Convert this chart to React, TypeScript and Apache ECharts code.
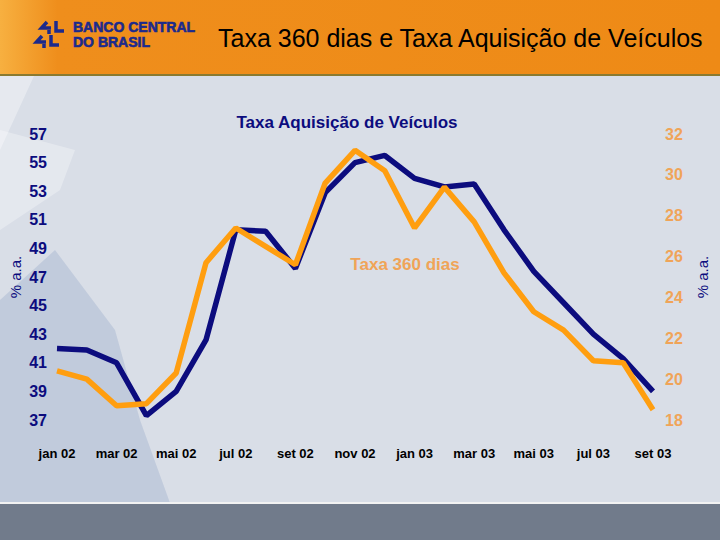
import React, { useEffect, useRef } from "react";
import * as echarts from "echarts";

const months = [
  "jan 02", "fev 02", "mar 02", "abr 02", "mai 02", "jun 02", "jul 02",
  "ago 02", "set 02", "out 02", "nov 02", "dez 02", "jan 03", "fev 03",
  "mar 03", "abr 03", "mai 03", "jun 03", "jul 03", "ago 03", "set 03",
];
const taxaVeiculos = [
  42.0, 41.9, 41.0, 37.3, 39.0, 42.6, 50.3, 50.2, 47.6, 52.9, 55.0,
  55.5, 53.9, 53.3, 53.5, 50.3, 47.4, 45.2, 43.0, 41.3, 39.0,
];
const taxa360 = [
  20.4, 20.0, 18.7, 18.8, 20.3, 25.7, 27.4, 26.5, 25.6, 29.6, 31.2,
  30.2, 27.4, 29.4, 27.7, 25.2, 23.3, 22.4, 20.9, 20.8, 18.5,
];
const leftAxis = { min: 37, max: 57, interval: 2 };
const rightAxis = { min: 18, max: 32, interval: 2 };

const NAVY = "#0c0c7e";
const ORANGE = "#FF9E10";
const PEACH = "#F0A458";
const LOGO = "#1c2a8c";
const FONT = "'Liberation Sans', Arial, sans-serif";

export default function App() {
  const ref = useRef<HTMLDivElement>(null);
  useEffect(() => {
    if (!ref.current) return;
    const chart = echarts.init(ref.current, null, { renderer: "svg" });

    const logoRow = (ox: number, oy: number) => [
      {
        type: "polyline", z: 1,
        shape: { points: [[ox + 7, oy], [ox + 1.5, oy + 6], [ox + 11, oy + 6]] },
        style: { stroke: LOGO, lineWidth: 3.5, fill: null },
      },
      {
        type: "polyline", z: 1,
        shape: { points: [[ox + 16, oy - 1], [ox + 16, oy + 9], [ox + 24, oy + 9]] },
        style: { stroke: LOGO, lineWidth: 3.5, fill: null },
      },
      {
        type: "polyline", z: 1,
        shape: { points: [[ox + 9, oy + 8], [ox + 9, oy + 12]] },
        style: { stroke: LOGO, lineWidth: 3.5, fill: null },
      },
    ];

    chart.setOption({
      animation: false,
      graphic: [
        { type: "rect", z: 0, shape: { x: 0, y: 0, width: 720, height: 540 }, style: { fill: "#D9DEE7" } },
        {
          type: "rect", z: 0, shape: { x: 0, y: 0, width: 720, height: 74 },
          style: {
            fill: new echarts.graphic.LinearGradient(0, 0, 1, 0, [
              { offset: 0, color: "#F7B040" },
              { offset: 0.08, color: "#EF8E1C" },
              { offset: 1, color: "#EE8A16" },
            ]),
          },
        },
        { type: "rect", z: 0, shape: { x: 0, y: 74, width: 720, height: 2 }, style: { fill: "#8a7a30" } },
        { type: "polygon", z: 0, shape: { points: [[0, 76], [34, 76], [0, 150]] }, style: { fill: "rgba(255,255,255,0.35)" } },
        { type: "polygon", z: 0, shape: { points: [[0, 130], [75, 150], [60, 190], [0, 230]] }, style: { fill: "rgba(255,255,255,0.3)" } },
        { type: "polygon", z: 0, shape: { points: [[0, 300], [55, 250], [115, 330], [140, 420], [170, 503], [0, 503]] }, style: { fill: "rgba(140,160,195,0.3)" } },
        { type: "rect", z: 0, shape: { x: 0, y: 503, width: 720, height: 37 }, style: { fill: "#717b8b" } },
        { type: "rect", z: 0, shape: { x: 0, y: 502, width: 720, height: 2 }, style: { fill: "#f2f2f2" } },
        ...logoRow(40, 22),
        ...logoRow(35, 36),
        {
          type: "text", z: 1, x: 73, y: 27,
          style: { text: "BANCO CENTRAL", font: `bold 14px ${FONT}`, fill: LOGO, stroke: LOGO, lineWidth: 0.6, verticalAlign: "middle" },
        },
        {
          type: "text", z: 1, x: 73, y: 42,
          style: { text: "DO BRASIL", font: `bold 14px ${FONT}`, fill: LOGO, stroke: LOGO, lineWidth: 0.6, verticalAlign: "middle" },
        },
        {
          type: "text", z: 1, x: 218, y: 38,
          style: { text: "Taxa 360 dias e Taxa Aquisição de Veículos", font: `25px ${FONT}`, fill: "#000", verticalAlign: "middle" },
        },
        {
          type: "text", z: 1, x: 347, y: 122,
          style: { text: "Taxa Aquisição de Veículos", font: `bold 17px ${FONT}`, fill: NAVY, align: "center", verticalAlign: "middle" },
        },
        {
          type: "text", z: 1, x: 405, y: 264,
          style: { text: "Taxa 360 dias", font: `bold 17px ${FONT}`, fill: PEACH, align: "center", verticalAlign: "middle" },
        },
        {
          type: "text", z: 1, x: 15, y: 277, rotation: Math.PI / 2,
          style: { text: "% a.a.", font: `15px ${FONT}`, fill: NAVY, align: "center", verticalAlign: "middle" },
        },
        {
          type: "text", z: 1, x: 702, y: 277, rotation: Math.PI / 2,
          style: { text: "% a.a.", font: `15px ${FONT}`, fill: NAVY, align: "center", verticalAlign: "middle" },
        },
      ],
      grid: { left: 57, right: 67, top: 134, bottom: 120 },
      xAxis: {
        type: "category",
        data: months,
        boundaryGap: false,
        axisLine: { show: false },
        axisTick: { show: false },
        splitLine: { show: false },
        axisLabel: {
          interval: 1,
          margin: 27,
          color: "#000",
          fontSize: 13,
          fontWeight: "bold",
          fontFamily: "'Liberation Sans Narrow', 'Liberation Sans', Arial, sans-serif",
        },
      },
      yAxis: [
        {
          type: "value",
          position: "left",
          ...leftAxis,
          axisLine: { show: false },
          axisTick: { show: false },
          splitLine: { show: false },
          axisLabel: { margin: 10, color: NAVY, fontSize: 16, fontWeight: "bold", fontFamily: FONT },
        },
        {
          type: "value",
          position: "right",
          ...rightAxis,
          axisLine: { show: false },
          axisTick: { show: false },
          splitLine: { show: false },
          axisLabel: { margin: 12, color: PEACH, fontSize: 16, fontWeight: "bold", fontFamily: FONT },
        },
      ],
      series: [
        {
          name: "Taxa Aquisição de Veículos",
          type: "line",
          yAxisIndex: 0,
          data: taxaVeiculos,
          showSymbol: false,
          z: 5,
          lineStyle: { color: NAVY, width: 5.5 },
          itemStyle: { color: NAVY },
        },
        {
          name: "Taxa 360 dias",
          type: "line",
          yAxisIndex: 1,
          data: taxa360,
          showSymbol: false,
          z: 6,
          lineStyle: { color: ORANGE, width: 5.5 },
          itemStyle: { color: ORANGE },
        },
      ],
    });
    return () => chart.dispose();
  }, []);
  return (
    <div
      ref={ref}
      style={{ position: "absolute", left: 0, top: 0, width: 720, height: 540 }}
    />
  );
}
